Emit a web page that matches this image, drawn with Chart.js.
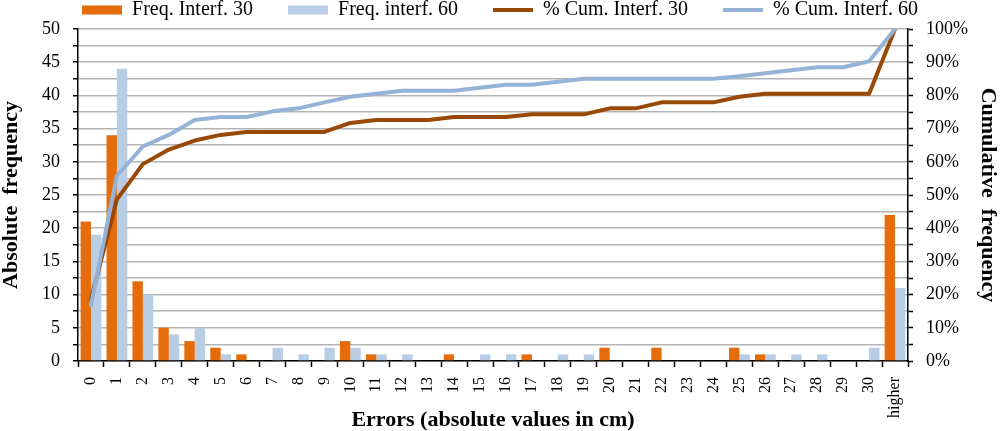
<!DOCTYPE html>
<html>
<head>
<meta charset="utf-8">
<script src="https://cdn.jsdelivr.net/npm/chart.js@4.4.1/dist/chart.umd.min.js"></script>
<style>
html, body { margin: 0; padding: 0; background: #fff; }
#wrap { width: 1000px; height: 431px; }
</style>
</head>
<body>
<div id="wrap"><canvas id="chart"></canvas></div>
<script>
const categories = ['0', '1', '2', '3', '4', '5', '6', '7', '8', '9', '10', '11', '12', '13', '14', '15',
    '16', '17', '18', '19', '20', '21', '22', '23', '24', '25', '26', '27', '28', '29', '30', 'higher'];

const freq30 = [21, 34, 12, 5, 3, 2, 1, 0, 0, 0, 3, 1, 0, 0, 1, 0, 0, 1, 0, 0, 2, 0, 2, 0, 0, 2, 1, 0, 0, 0, 0, 22];
const freq60 = [19, 44, 10, 4, 5, 1, 0, 2, 1, 2, 2, 1, 1, 0, 0, 1, 1, 0, 1, 1, 0, 0, 0, 0, 0, 1, 1, 1, 1, 0, 2, 11];

// cumulative %
const cum30 = [18.6, 48.7, 59.3, 63.7, 66.4, 68.1, 69.0, 69.0, 69.0, 69.0, 71.7, 72.6, 72.6, 72.6, 73.5, 73.5,
    73.5, 74.3, 74.3, 74.3, 76.1, 76.1, 77.9, 77.9, 77.9, 79.6, 80.5, 80.5, 80.5, 80.5, 80.5, 100];
const cum60 = [16.8, 55.8, 64.6, 68.1, 72.6, 73.5, 73.5, 75.2, 76.1, 77.9, 79.6, 80.5, 81.4, 81.4, 81.4, 82.3,
    83.2, 83.2, 84.1, 85.0, 85.0, 85.0, 85.0, 85.0, 85.0, 85.8, 86.7, 87.6, 88.5, 88.5, 90.3, 100];

Chart.defaults.font.family = "'Liberation Serif', 'Times New Roman', serif";
Chart.defaults.color = '#000';

const gap = '       ';

const ctx = document.getElementById('chart').getContext('2d');
new Chart(ctx, {
    type: 'bar',
    data: {
        labels: categories,
        datasets: [{
            label: 'Freq. Interf. 30',
            data: freq30,
            backgroundColor: '#E46C0A',
            pointStyle: 'rect',
            categoryPercentage: 0.8,
            barPercentage: 1.0,
            order: 2
        }, {
            label: 'Freq. interf. 60',
            data: freq60,
            backgroundColor: '#B9CDE5',
            pointStyle: 'rect',
            categoryPercentage: 0.8,
            barPercentage: 1.0,
            order: 2
        }, {
            type: 'line',
            label: '% Cum. Interf. 30',
            data: cum30,
            yAxisID: 'y1',
            borderColor: '#984807',
            backgroundColor: '#984807',
            borderWidth: 4,
            borderCapStyle: 'round',
            borderJoinStyle: 'round',
            pointRadius: 0,
            pointStyle: 'line',
            tension: 0,
            order: 1
        }, {
            type: 'line',
            label: '% Cum. Interf. 60',
            data: cum60,
            yAxisID: 'y1',
            borderColor: '#95B3D7',
            backgroundColor: '#95B3D7',
            borderWidth: 4,
            borderCapStyle: 'round',
            borderJoinStyle: 'round',
            pointRadius: 0,
            pointStyle: 'line',
            tension: 0,
            order: 0
        }]
    },
    options: {
        responsive: true,
        maintainAspectRatio: false,
        animation: false,
        layout: { padding: 0 },
        plugins: {
            tooltip: { enabled: false },
            legend: {
                position: 'top',
                maxHeight: 29,
                labels: {
                    usePointStyle: true,
                    pointStyleWidth: 40,
                    boxHeight: 9,
                    padding: 0,
                    font: { size: 20 },
                    color: '#000',
                    sort: (a, b) => a.datasetIndex - b.datasetIndex,
                    generateLabels: chart => {
                        const items = Chart.defaults.plugins.legend.labels.generateLabels(chart);
                        items.forEach(it => {
                            if (it.datasetIndex < 3) it.text = it.text + gap;
                        });
                        return items;
                    }
                }
            }
        },
        scales: {
            x: {
                offset: true,
                ticks: { autoSkip: false, maxRotation: 90, minRotation: 90, padding: 10, font: { size: 16 }, color: '#000' },
                grid: { offset: true, drawOnChartArea: false, tickColor: '#000', tickLength: 6, tickWidth: 1.5 },
                border: { color: '#000', width: 1.5 },
                title: {
                    display: true,
                    text: 'Errors (absolute values in cm)',
                    font: { size: 22, weight: 'bold', lineHeight: 1 },
                    padding: { top: 0, bottom: 0 },
                    color: '#000'
                },
                afterFit: s => { s.height = 70; }
            },
            y: {
                position: 'left',
                min: 0,
                max: 50,
                ticks: {
                    stepSize: 2.5,
                    autoSkip: false,
                    padding: 13,
                    font: { size: 18 },
                    color: '#000',
                    callback: v => (v % 5 === 0 ? v : '')
                },
                grid: { color: '#b4b4b4', lineWidth: 1.5, tickColor: '#000', tickLength: 5, tickWidth: 1.5 },
                border: { color: '#000', width: 1.5 },
                title: {
                    display: true,
                    text: 'Absolute  frequency',
                    font: { size: 22, weight: 'bold', lineHeight: 1 },
                    padding: { top: 0, bottom: 0 },
                    color: '#000'
                },
                afterFit: s => { s.width = 78; }
            },
            y1: {
                position: 'right',
                min: 0,
                max: 100,
                ticks: {
                    stepSize: 5,
                    autoSkip: false,
                    padding: 13,
                    font: { size: 18 },
                    color: '#000',
                    callback: v => (v % 10 === 0 ? v + '%' : '')
                },
                grid: { drawOnChartArea: false, tickColor: '#000', tickLength: 5, tickWidth: 1.5 },
                border: { color: '#000', width: 1.5 },
                title: {
                    display: true,
                    text: 'Cumulative  frequency',
                    font: { size: 22, weight: 'bold', lineHeight: 1 },
                    padding: { top: 1, bottom: 0 },
                    color: '#000'
                },
                afterFit: s => { s.width = 92; }
            }
        }
    }
});
</script>
</body>
</html>
